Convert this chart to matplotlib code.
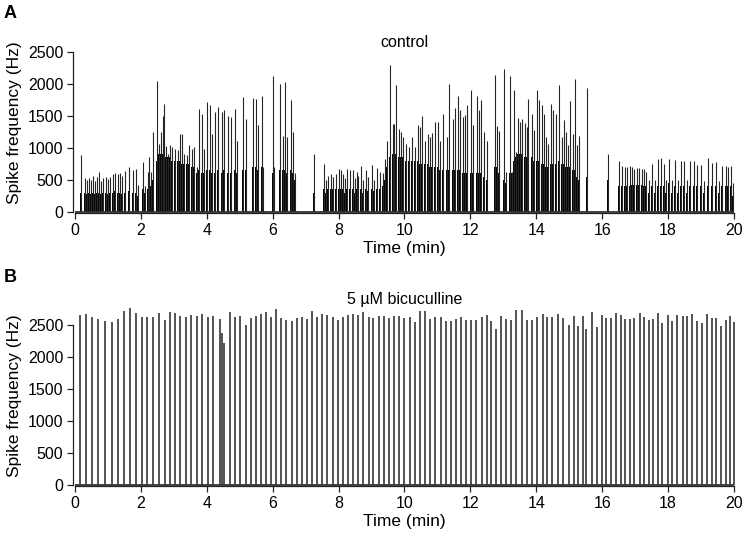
import matplotlib
matplotlib.use("Agg")
import matplotlib.pyplot as plt

plt.rcParams['font.family'] = ['Liberation Sans', 'DejaVu Sans']

# ---- panel A (control): burst times (min), peak and inner-core frequency (Hz)
a_t = [0.18, 0.30, 0.36, 0.42, 0.48, 0.55, 0.60, 0.66, 0.73, 0.79, 0.86, 0.93, 1.00, 1.07, 1.15,
       1.22, 1.30, 1.37, 1.44, 1.52, 1.64, 1.75, 1.85, 1.92, 2.05, 2.13, 2.21, 2.26, 2.32, 2.38,
       2.50, 2.56, 2.62, 2.66, 2.71, 2.75, 2.81, 2.88, 2.95, 3.03, 3.12, 3.19, 3.25, 3.31, 3.39,
       3.47, 3.54, 3.61, 3.69, 3.77, 3.85, 3.92, 4.02, 4.10, 4.17, 4.25, 4.35, 4.45, 4.52, 4.65,
       4.75, 4.86, 4.93, 5.09, 5.19, 5.39, 5.49, 5.56, 5.67, 5.72, 6.00, 6.04, 6.22, 6.30, 6.38,
       6.45, 6.55, 6.61, 6.68, 7.24, 7.55, 7.62, 7.69, 7.77, 7.84, 7.92, 8.00, 8.08, 8.14, 8.20,
       8.26, 8.35, 8.43, 8.49, 8.55, 8.60, 8.67, 8.74, 8.82, 8.89, 9.00, 9.07, 9.18, 9.25, 9.34,
       9.41, 9.48, 9.57, 9.64, 9.69, 9.75, 9.82, 9.89, 9.97, 10.05, 10.15, 10.23, 10.32, 10.40, 10.47,
       10.53, 10.62, 10.70, 10.77, 10.85, 10.92, 11.03, 11.08, 11.16, 11.28, 11.36, 11.47, 11.54, 11.61, 11.69,
       11.77, 11.84, 11.91, 12.01, 12.07, 12.19, 12.27, 12.33, 12.41, 12.49, 12.75, 12.82, 12.88, 13.02, 13.08,
       13.20, 13.26, 13.32, 13.38, 13.45, 13.52, 13.58, 13.65, 13.71, 13.76, 13.86, 13.94, 14.01, 14.09, 14.16,
       14.23, 14.31, 14.37, 14.45, 14.52, 14.60, 14.70, 14.77, 14.84, 14.90, 14.95, 15.02, 15.10, 15.17, 15.24,
       15.30, 15.53, 16.19, 16.50, 16.61, 16.69, 16.75, 16.83, 16.90, 16.98, 17.06, 17.13, 17.21, 17.27, 17.34,
       17.41, 17.50, 17.59, 17.68, 17.78, 17.87, 17.95, 18.04, 18.12, 18.20, 18.29, 18.38, 18.49, 18.57, 18.66,
       18.80, 18.89, 19.00, 19.10, 19.21, 19.34, 19.47, 19.55, 19.64, 19.75, 19.83, 19.91, 19.96]
a_peak = [880, 520, 500, 530, 490, 560, 480, 540, 620, 480, 530, 550, 510, 550, 590,
          600, 590, 600, 560, 640, 700, 650, 660, 420, 770, 400, 620, 850, 620, 1250,
          2050, 1060, 1245, 1500, 1690, 1030, 900, 1035, 1010, 985, 960, 1220, 1220, 900, 880,
          1035, 985, 1010, 700, 1610, 1530, 985, 1715, 1660, 1220, 1560, 1640, 1560, 1585, 1500,
          1480, 1610, 1110, 1795, 1450, 1784, 1757, 1350, 1810, 700, 2118, 700, 2003, 1190, 2019,
          1160, 1742, 1245, 600, 894, 748, 500, 565, 590, 540, 590, 670, 645, 590, 520,
          670, 655, 645, 520, 620, 565, 711, 500, 654, 540, 737, 500, 680, 620, 600,
          826, 1100, 2290, 1375, 1375, 1987, 1300, 1245, 1170, 1060, 1010, 1166, 1010, 1350, 1320,
          1500, 1110, 1220, 1160, 1230, 1400, 1400, 1110, 1530, 1160, 2003, 1455, 1625, 1815, 1585,
          1480, 1505, 1663, 1900, 1350, 1804, 1585, 1752, 1245, 1110, 2134, 1334, 1255, 2223, 620,
          2118, 620, 1900, 930, 1470, 1400, 1450, 1380, 1330, 1762, 1530, 1270, 1900, 1752, 1660,
          1530, 1170, 1060, 1680, 1590, 1530, 1977, 1160, 1440, 1245, 1035, 1730, 1220, 2080, 1035,
          1190, 1940, 905, 785, 720, 700, 700, 715, 700, 675, 685, 685, 675, 660, 620,
          490, 748, 490, 826, 842, 748, 500, 826, 500, 810, 500, 800, 785, 500, 800,
          790, 737, 732, 480, 837, 758, 775, 480, 722, 711, 706, 722, 450]
a_core = [300, 300, 280, 300, 280, 300, 280, 300, 300, 280, 300, 300, 280, 300, 300,
          320, 300, 300, 280, 300, 320, 300, 300, 250, 350, 300, 350, 400, 400, 500,
          800, 900, 900, 900, 900, 850, 850, 850, 800, 800, 800, 800, 750, 750, 750,
          750, 700, 700, 600, 650, 600, 600, 650, 650, 600, 600, 650, 600, 650, 600,
          600, 650, 600, 650, 650, 700, 700, 650, 700, 500, 600, 500, 650, 650, 650,
          600, 650, 600, 500, 300, 350, 300, 350, 350, 350, 350, 350, 350, 350, 300,
          350, 350, 350, 300, 350, 350, 350, 300, 350, 330, 350, 330, 350, 350, 400,
          500, 700, 850, 900, 900, 900, 850, 850, 850, 800, 800, 800, 800, 800, 750,
          750, 750, 750, 700, 700, 700, 700, 650, 650, 650, 650, 650, 650, 650, 650,
          600, 600, 600, 600, 600, 600, 600, 600, 550, 500, 700, 700, 600, 500, 450,
          600, 600, 800, 850, 900, 900, 900, 850, 850, 850, 850, 800, 800, 800, 750,
          750, 700, 700, 750, 750, 750, 800, 750, 750, 700, 700, 700, 650, 650, 550,
          500, 550, 500, 400, 400, 400, 400, 400, 420, 420, 420, 420, 420, 400, 400,
          300, 400, 300, 400, 400, 400, 300, 450, 300, 400, 300, 400, 400, 300, 400,
          400, 400, 400, 300, 400, 400, 400, 300, 400, 400, 400, 400, 250]

# ---- panel B (5 uM bicuculline): burst times (min) and peak frequency (Hz)
b_t = [0.15, 0.33, 0.52, 0.71, 0.91, 1.12, 1.31, 1.50, 1.68, 1.86, 2.02, 2.19, 2.38, 2.55, 2.72,
       2.88, 3.04, 3.19, 3.37, 3.53, 3.69, 3.86, 4.04, 4.20, 4.41, 4.47, 4.53, 4.70, 4.87, 5.01,
       5.19, 5.33, 5.48, 5.64, 5.80, 5.95, 6.10, 6.26, 6.41, 6.58, 6.73, 6.89, 7.04, 7.19, 7.36,
       7.51, 7.66, 7.82, 7.97, 8.13, 8.29, 8.45, 8.60, 8.75, 8.91, 9.06, 9.22, 9.38, 9.53, 9.68,
       9.84, 10.00, 10.16, 10.32, 10.47, 10.63, 10.78, 10.93, 11.10, 11.25, 11.40, 11.56, 11.72, 11.87, 12.03,
       12.18, 12.34, 12.49, 12.62, 12.77, 12.92, 13.07, 13.22, 13.38, 13.56, 13.71, 13.87, 14.02, 14.19, 14.34,
       14.49, 14.65, 14.80, 14.98, 15.14, 15.28, 15.43, 15.50, 15.69, 15.85, 15.99, 16.13, 16.27, 16.41, 16.56,
       16.69, 16.83, 16.98, 17.14, 17.27, 17.41, 17.55, 17.69, 17.83, 17.99, 18.13, 18.28, 18.44, 18.58, 18.74,
       18.89, 19.04, 19.18, 19.32, 19.47, 19.61, 19.75, 19.88, 20.00]
b_peak = [2660, 2670, 2620, 2590, 2570, 2540, 2600, 2720, 2770, 2680, 2620, 2620, 2630, 2690, 2580,
          2700, 2680, 2640, 2630, 2660, 2640, 2670, 2630, 2640, 2600, 2380, 2220, 2710, 2630, 2640,
          2500, 2610, 2647, 2673, 2699, 2621, 2752, 2610, 2579, 2568, 2605, 2621, 2594, 2715, 2621,
          2673, 2662, 2621, 2579, 2631, 2657, 2673, 2657, 2699, 2621, 2605, 2636, 2647, 2610, 2636,
          2636, 2610, 2621, 2542, 2715, 2715, 2594, 2621, 2621, 2558, 2558, 2594, 2621, 2584, 2584,
          2579, 2631, 2657, 2568, 2437, 2647, 2594, 2579, 2736, 2736, 2579, 2579, 2631, 2673, 2631,
          2621, 2673, 2605, 2505, 2636, 2489, 2647, 2437, 2699, 2463, 2657, 2610, 2605, 2683, 2657,
          2594, 2594, 2610, 2683, 2631, 2579, 2594, 2683, 2531, 2657, 2568, 2657, 2636, 2647, 2673,
          2568, 2531, 2673, 2605, 2605, 2489, 2579, 2636, 2547]

W, H = 746, 537
fig = plt.figure(figsize=(W / 100, H / 100), dpi=100)


def make_axes(bottom_px, top_px):
    # 0 min sits at x=75 px, 20 min at x=734 px
    left = 73.0 / W
    width = 662.6 / W
    ax = fig.add_axes([left, 1 - bottom_px / H, width, (bottom_px - top_px) / H])
    ax.set_xlim(-0.06, 20.05)
    ax.set_ylim(-20, 2800)
    for s in ['top', 'right']:
        ax.spines[s].set_visible(False)
    ax.spines['left'].set_bounds(0, 2500)
    ax.spines['bottom'].set_bounds(0, 20)
    for s in ['left', 'bottom']:
        ax.spines[s].set_linewidth(0.9)
        ax.spines[s].set_color('#222222')
    ax.set_xticks(range(0, 21, 2))
    ax.set_yticks(range(0, 2501, 500))
    ax.tick_params(direction='out', length=4, width=0.9, labelsize=11.5,
                   colors='#222222', labelcolor='black', pad=3)
    ax.set_xlabel('Time (min)', fontsize=12.5, labelpad=2)
    ax.set_ylabel('Spike frequency (Hz)', fontsize=12.5, labelpad=4)
    ax.patch.set_visible(False)
    return ax


axA = make_axes(213.0, 32.5)
axA.vlines(a_t, 0, a_core, color='black', lw=1.4)
axA.vlines(a_t, 0, a_peak, color='#262626', lw=0.8)
axA.hlines(0, 0, 20, color='#333333', lw=1.3)
axA.text(10, 2650, 'control', ha='center', va='center', fontsize=11.5)

axB = make_axes(486.3, 305.8)
axB.vlines(b_t, 0, b_peak, color='#363636', lw=1.2)
axB.hlines(0, 0, 20, color='#333333', lw=1.3)
axB.text(10, 2900, '5 µM bicuculline', ha='center', va='center', fontsize=11.5)

fig.text(4 / W, 1 - 13 / H, 'A', fontsize=13, fontweight='bold', ha='left', va='center')
fig.text(4 / W, 1 - 278 / H, 'B', fontsize=13, fontweight='bold', ha='left', va='center')

fig.savefig('out.png', dpi=100)
